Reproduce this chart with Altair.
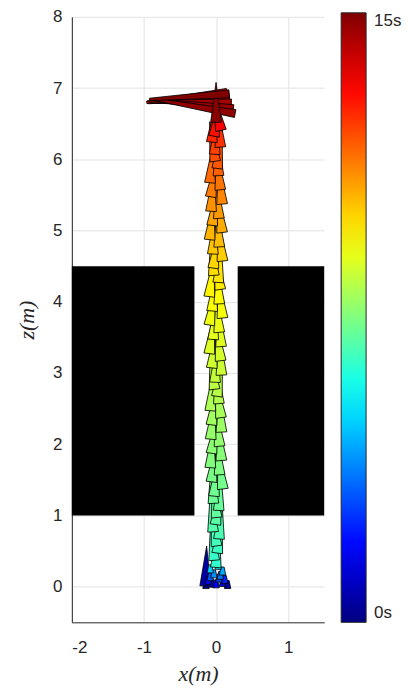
import altair as alt
import pandas as pd

# ---- obstacles: two black walls with a gap ----
wall_x0 = [-2.0, 0.3]
wall_x1 = [-0.3, 1.5]
wall_z0 = [1.0, 1.0]
wall_z1 = [4.5, 4.5]

# ---- ground phase (small glyphs near z = 0) ----
ground_t = [0.0, 0.4, 0.8, 1.2, 1.6, 2.0, 2.4, 2.8, 3.2, 3.6, 4.0, 4.4, 4.8, 5.2]
ground_x = [-0.14, 0.16, -0.06, 0.09, 0.0, -0.11, 0.12, 0.04, -0.08, 0.06, -0.03, 0.09, -0.08, 0.03]
ground_z = [0.03, 0.03, 0.05, 0.06, 0.04, 0.09, 0.10, 0.12, 0.14, 0.16, 0.18, 0.22, 0.25, 0.30]
ground_a = [0, 0, 0, 0, 0, 0, 0, 0, 0, 0, 0, 0, 0, 0]

# ---- climb phase (upright glyphs) ----
climb_t = [0.6,
           6.35, 6.45, 6.55, 6.65, 6.75, 6.85, 6.95, 7.05, 7.12, 7.19,
           7.26, 7.33, 7.40, 7.47, 7.54, 7.61, 7.68, 7.75, 7.83, 7.91,
           7.99, 8.07, 8.15, 8.24, 8.33, 8.42, 8.51, 8.6, 8.68, 8.76,
           8.84, 8.92, 9.0, 9.08, 9.16, 9.24, 9.32, 9.4, 9.52, 9.64,
           9.76, 9.88, 10.0, 10.12, 10.24, 10.36, 10.48, 10.6, 10.74, 10.88,
           11.02, 11.16, 11.3, 11.44, 11.58, 11.72, 11.86, 12.0, 12.2, 12.4,
           12.6, 12.9, 13.2, 14.9]
climb_x = [-0.14,
           0.02, -0.05, 0.05, -0.03, 0.06, -0.06, 0.03, -0.02, 0.05, -0.05,
           0.0, 0.06, -0.03, 0.03, -0.06, 0.05, -0.02, 0.02, -0.05, 0.06,
           -0.03, 0.03, -0.06, 0.02, 0.05, -0.05, 0.0, 0.06, -0.03, 0.03,
           -0.06, 0.05, -0.02, 0.02, -0.05, 0.06, -0.03, 0.03, -0.06, 0.02,
           0.05, -0.05, 0.0, 0.06, -0.03, 0.03, -0.06, 0.05, -0.02, 0.02,
           -0.05, 0.06, -0.03, 0.03, -0.06, 0.02, 0.05, -0.05, 0.0, 0.04,
           -0.03, 0.02, 0.01, 0.0]
climb_z = [0.29,
           0.55, 0.65, 0.75, 0.85, 0.95, 1.05, 1.15, 1.25, 1.35, 1.45,
           1.55, 1.65, 1.75, 1.85, 1.95, 2.05, 2.15, 2.25, 2.35, 2.45,
           2.55, 2.65, 2.75, 2.85, 2.95, 3.05, 3.15, 3.25, 3.35, 3.45,
           3.55, 3.65, 3.75, 3.85, 3.95, 4.05, 4.15, 4.25, 4.35, 4.45,
           4.55, 4.65, 4.75, 4.85, 4.95, 5.05, 5.15, 5.25, 5.35, 5.45,
           5.55, 5.65, 5.75, 5.85, 5.95, 6.05, 6.15, 6.25, 6.35, 6.45,
           6.52, 6.60, 6.68, 6.80]
climb_a = [2,
           5, 355, 7, 352, 4, 356, 8, 354, 3, 357,
           6, 353, 7, 356, 4, 355, 9, 354, 5, 357,
           7, 352, 4, 356, 8, 354, 3, 357, 6, 353,
           7, 356, 4, 355, 9, 354, 5, 357, 7, 352,
           4, 356, 8, 354, 3, 357, 6, 353, 7, 356,
           4, 355, 9, 354, 5, 357, 7, 352, 4, 356,
           6, 10, 348, 0]

# ---- top phase (glyphs lying flat, pointing left) ----
flat_t = [13.5, 13.7, 13.9, 14.1, 14.3, 14.45, 14.6, 14.75, 15.0]
flat_x = [-0.37, -0.39, -0.40, -0.41, -0.37, -0.34, -0.31, -0.28, -0.37]
flat_z = [6.84, 6.845, 6.87, 6.85, 6.83, 6.80, 6.77, 6.74, 6.88]
flat_a = [266, 265, 263, 265, 268, 271, 276, 280, 266]

# ---- colour map (jet) ----
jet_stops = [0, 1.875, 3.75, 5.625, 7.5, 9.375, 11.25, 13.125, 15]
jet_colors = ["#000080", "#0000ff", "#0080ff", "#00ffff", "#80ff80",
              "#ffff00", "#ff8000", "#ff0000", "#800000"]

kinds = ["ground", "up", "flat"]
kind_paths = ["M-0.4,-1L0.4,-1L0.8,1L-0.8,1Z",
              "M0,-1L0.27,1L-0.27,1Z",
              "M-0.03,-1L0.03,-1L0.1,1L-0.1,1Z"]
kind_sizes = [64, 1600, 6400]

rows = []
for t, x, z, a in zip(ground_t, ground_x, ground_z, ground_a):
    rows.append(dict(t=t, x=x, z=z, ang=a, kind="ground"))
for t, x, z, a in zip(climb_t, climb_x, climb_z, climb_a):
    rows.append(dict(t=t, x=x, z=z, ang=a, kind="up"))
for t, x, z, a in zip(flat_t, flat_x, flat_z, flat_a):
    rows.append(dict(t=t, x=x, z=z, ang=a, kind="flat"))
traj = pd.DataFrame(rows)

walls = pd.DataFrame(dict(x0=wall_x0, x1=wall_x1, z0=wall_z0, z1=wall_z1))

xs = alt.Scale(domain=[-2, 1.5], nice=False, zero=False)
ys = alt.Scale(domain=[-0.5, 8], nice=False, zero=False)

x_axis = alt.Axis(values=[-2, -1, 0, 1], title="x(m)", labelPadding=17,
                  titlePadding=8, tickSize=0, labelExpr="'' + datum.value")
y_axis = alt.Axis(values=[0, 1, 2, 3, 4, 5, 6, 7, 8], title="z(m)",
                  labelPadding=10, titlePadding=14, tickSize=0,
                  labelExpr="'' + datum.value")

wall_layer = alt.Chart(walls).mark_rect(color="black").encode(
    x=alt.X("x0:Q", scale=xs, axis=x_axis),
    x2="x1:Q",
    y=alt.Y("z0:Q", scale=ys, axis=y_axis),
    y2="z1:Q",
)

glyphs = alt.Chart(traj).mark_point(
    filled=True, stroke="black", strokeWidth=0.8, opacity=1
).encode(
    x=alt.X("x:Q", scale=xs),
    y=alt.Y("z:Q", scale=ys),
    color=alt.Color(
        "t:Q",
        title=None,
        scale=alt.Scale(domain=jet_stops, range=jet_colors, interpolate="rgb"),
        legend=alt.Legend(
            orient="none", legendX=270, legendY=-4, direction="vertical",
            gradientLength=611, gradientThickness=25,
            gradientStrokeColor="#262626", gradientStrokeWidth=1,
            values=[0, 15], labelExpr="datum.value + 's'",
            labelBaseline="middle", labelOffset=8,
            labelFont="Liberation Sans", labelFontSize=17,
            labelColor="#262626", padding=0,
        ),
    ),
    shape=alt.Shape("kind:N", scale=alt.Scale(domain=kinds, range=kind_paths), legend=None),
    size=alt.Size("kind:N", scale=alt.Scale(type="ordinal", domain=kinds, range=kind_sizes), legend=None),
    angle=alt.Angle("ang:Q", scale=None),
    order=alt.Order("t:Q"),
)

chart = alt.layer(wall_layer, glyphs).properties(
    width=253, height=607,
    autosize=alt.AutoSizeParams(type="none"),
    padding={"left": 64, "top": 8, "right": 82, "bottom": 68},
).configure_view(strokeWidth=0).configure_axis(
    labelFont="Liberation Sans", labelFontSize=17, labelColor="#262626",
    domainColor="#262626", domainWidth=1, gridColor="#e3e3e3", gridWidth=1,
    titleFont="Liberation Serif", titleFontStyle="italic", titleFontWeight="normal",
    titleFontSize=22, titleColor="#262626",
)

chart.save("out.html", embed_options={"renderer": "svg", "actions": False})
